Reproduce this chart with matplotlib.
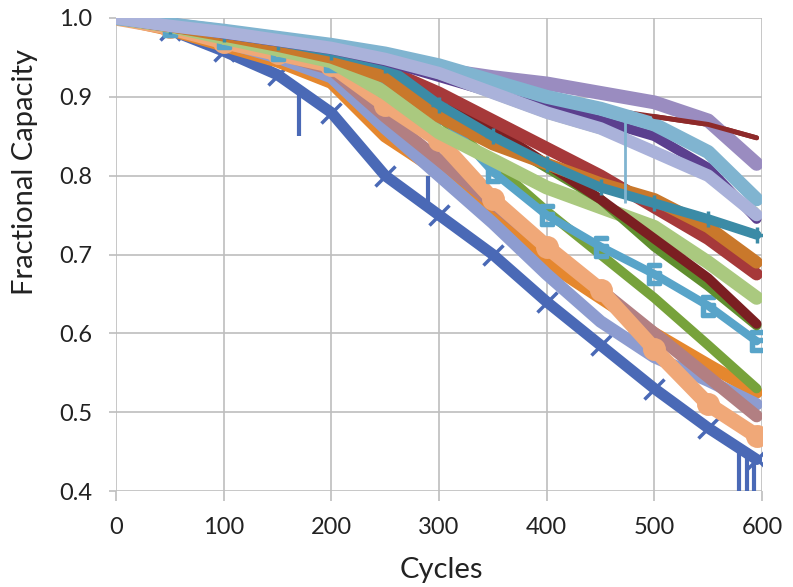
import matplotlib
matplotlib.use("Agg")
import matplotlib.pyplot as plt
import numpy as np

plt.rcParams['font.family'] = ['Lato', 'DejaVu Sans']

cycles = [0, 50, 100, 150, 200, 250, 300, 350, 400, 450, 500, 550, 595]

# fractional capacity per cell (lowest first, drawn first)
cap_blue = [1.0, 0.985, 0.958, 0.928, 0.88, 0.80, 0.75, 0.70, 0.64, 0.585, 0.53, 0.48, 0.44]
cap_orange = [1.0, 0.985, 0.965, 0.945, 0.918, 0.85, 0.805, 0.75, 0.69, 0.645, 0.60, 0.56, 0.525]
cap_lavblue = [1.0, 0.988, 0.97, 0.95, 0.925, 0.86, 0.80, 0.74, 0.675, 0.615, 0.57, 0.54, 0.51]
cap_mauve = [1.0, 0.988, 0.97, 0.955, 0.935, 0.875, 0.82, 0.765, 0.71, 0.655, 0.60, 0.545, 0.495]
cap_peach = [1.0, 0.988, 0.97, 0.955, 0.94, 0.89, 0.845, 0.77, 0.71, 0.655, 0.58, 0.51, 0.47]
cap_green = [1.0, 0.99, 0.975, 0.96, 0.945, 0.915, 0.875, 0.815, 0.755, 0.70, 0.645, 0.585, 0.53]
cap_eblue = [1.0, 0.99, 0.975, 0.96, 0.945, 0.915, 0.88, 0.805, 0.75, 0.71, 0.675, 0.635, 0.59]
cap_ltgreen2 = [1.0, 0.99, 0.975, 0.96, 0.945, 0.905, 0.855, 0.82, 0.785, 0.76, 0.735, 0.69, 0.645]
cap_dkgreen = [1.0, 0.99, 0.978, 0.965, 0.95, 0.925, 0.89, 0.85, 0.81, 0.77, 0.71, 0.66, 0.61]
cap_dkred2 = [1.0, 0.99, 0.978, 0.965, 0.95, 0.93, 0.90, 0.86, 0.815, 0.77, 0.72, 0.67, 0.612]
cap_redbrown = [1.0, 0.99, 0.98, 0.968, 0.955, 0.935, 0.905, 0.87, 0.835, 0.80, 0.76, 0.72, 0.675]
cap_dkorange = [1.0, 0.99, 0.978, 0.965, 0.95, 0.925, 0.875, 0.84, 0.815, 0.79, 0.77, 0.735, 0.69]
cap_teal = [1.0, 0.99, 0.98, 0.97, 0.957, 0.94, 0.89, 0.85, 0.815, 0.785, 0.765, 0.745, 0.725]
cap_dkpurple = [1.0, 0.99, 0.98, 0.97, 0.96, 0.945, 0.925, 0.905, 0.888, 0.87, 0.85, 0.81, 0.745]
cap_ltgreen = [1.0, 0.99, 0.98, 0.97, 0.96, 0.945, 0.925, 0.90, 0.875, 0.855, 0.835, 0.80, 0.757]
cap_dkred = [1.0, 0.99, 0.98, 0.97, 0.96, 0.948, 0.93, 0.915, 0.90, 0.885, 0.875, 0.865, 0.848]
cap_purgray = [1.0, 0.992, 0.983, 0.974, 0.964, 0.952, 0.935, 0.925, 0.917, 0.905, 0.893, 0.87, 0.815]
cap_ltteal = [1.0, 0.992, 0.984, 0.975, 0.966, 0.955, 0.94, 0.92, 0.90, 0.885, 0.865, 0.83, 0.77]
cap_ltlav = [1.0, 0.99, 0.982, 0.972, 0.962, 0.948, 0.93, 0.905, 0.88, 0.86, 0.83, 0.80, 0.75]

# measurement glitches (cycle, value before drop, value at bottom)
blue_spike_cycles = [170, 290, 579, 586, 593]
blue_spike_top = [0.905, 0.80, 0.45, 0.445, 0.44]
blue_spike_bottom = [0.85, 0.755, 0.40, 0.40, 0.40]
ltteal_spike_cycle = 473
ltteal_spike_top = 0.875
ltteal_spike_bottom = 0.765

x_ticks = [0, 100, 200, 300, 400, 500, 600]
y_ticks = [0.4, 0.5, 0.6, 0.7, 0.8, 0.9, 1.0]

series = [
    (cap_blue, '#4A69B6', 8, 'x', 15),
    (cap_orange, '#E5872E', 9, None, 0),
    (cap_lavblue, '#8D9CD0', 9, None, 0),
    (cap_mauve, '#B27F82', 9, None, 0),
    (cap_peach, '#F0A878', 11, 'o', 14),
    (cap_green, '#77A23B', 7, None, 0),
    (cap_eblue, '#58A4C9', 6, r'$\mathsf{E}$', 14),
    (cap_ltgreen2, '#AAC97F', 10, None, 0),
    (cap_dkgreen, '#5F8E2E', 7, None, 0),
    (cap_dkred2, '#7B1F22', 7, None, 0),
    (cap_redbrown, '#A6393A', 9, None, 0),
    (cap_dkorange, '#C9782B', 9, None, 0),
    (cap_teal, '#3B8BA6', 7, '+', 12),
    (cap_dkpurple, '#5B3F8E', 7, None, 0),
    (cap_ltgreen, '#A4C85A', 3, None, 0),
    (cap_dkred, '#8E2A2A', 3.5, None, 0),
    (cap_purgray, '#9A8CC0', 10, None, 0),
    (cap_ltteal, '#80B4D0', 10, None, 0),
    (cap_ltlav, '#AAB2DA', 9, None, 0),
]

fig = plt.figure(figsize=(7.93, 5.87), dpi=100)
ax = fig.add_axes([116 / 793, 1 - 491 / 587, 646 / 793, 473 / 587])

for vals, col, lw, mk, ms in series:
    ax.plot(cycles, vals, color=col, lw=lw, solid_capstyle='round',
            solid_joinstyle='round', zorder=3)
    if mk is not None:
        ax.plot(cycles[1:], vals[1:], ls='none', marker=mk, ms=ms, mew=2.5,
                color=col, zorder=3)

# the thin dark red cell shows above the purple band once that one fades
ax.plot(cycles[-3:], cap_dkred[-3:], color='#8E2A2A', lw=3.5,
        solid_capstyle='round', zorder=3)

ax.vlines(blue_spike_cycles, blue_spike_bottom, blue_spike_top,
          color='#4A69B6', lw=3, zorder=4)
ax.vlines(ltteal_spike_cycle, ltteal_spike_bottom, ltteal_spike_top,
          color='#80B4D0', lw=2, zorder=4)

ax.set_xlim(0, 600)
ax.set_ylim(0.4, 1.0)
ax.set_xticks(x_ticks)
ax.set_yticks(y_ticks)
ax.set_yticklabels([f"{v:.1f}" for v in y_ticks])

for s in ax.spines.values():
    s.set_visible(False)
ax.grid(True, color='#BEBEBE', lw=1.2, zorder=0)
ax.set_axisbelow(True)
ax.tick_params(axis='x', length=7, width=1.2, color='#BEBEBE', pad=12,
               labelsize=17, labelcolor='#222222')
ax.tick_params(axis='y', length=5, width=1.2, color='#BEBEBE', pad=12,
               labelsize=17, labelcolor='#222222')

fig.text(25 / 793, 1 - 172 / 587, 'Fractional Capacity', rotation=90,
         ha='center', va='center', fontsize=21, color='#222222')
fig.text(441 / 793, 1 - 570 / 587, 'Cycles', ha='center', va='center',
         fontsize=21, color='#222222')

fig.savefig('out.png', dpi=100)
